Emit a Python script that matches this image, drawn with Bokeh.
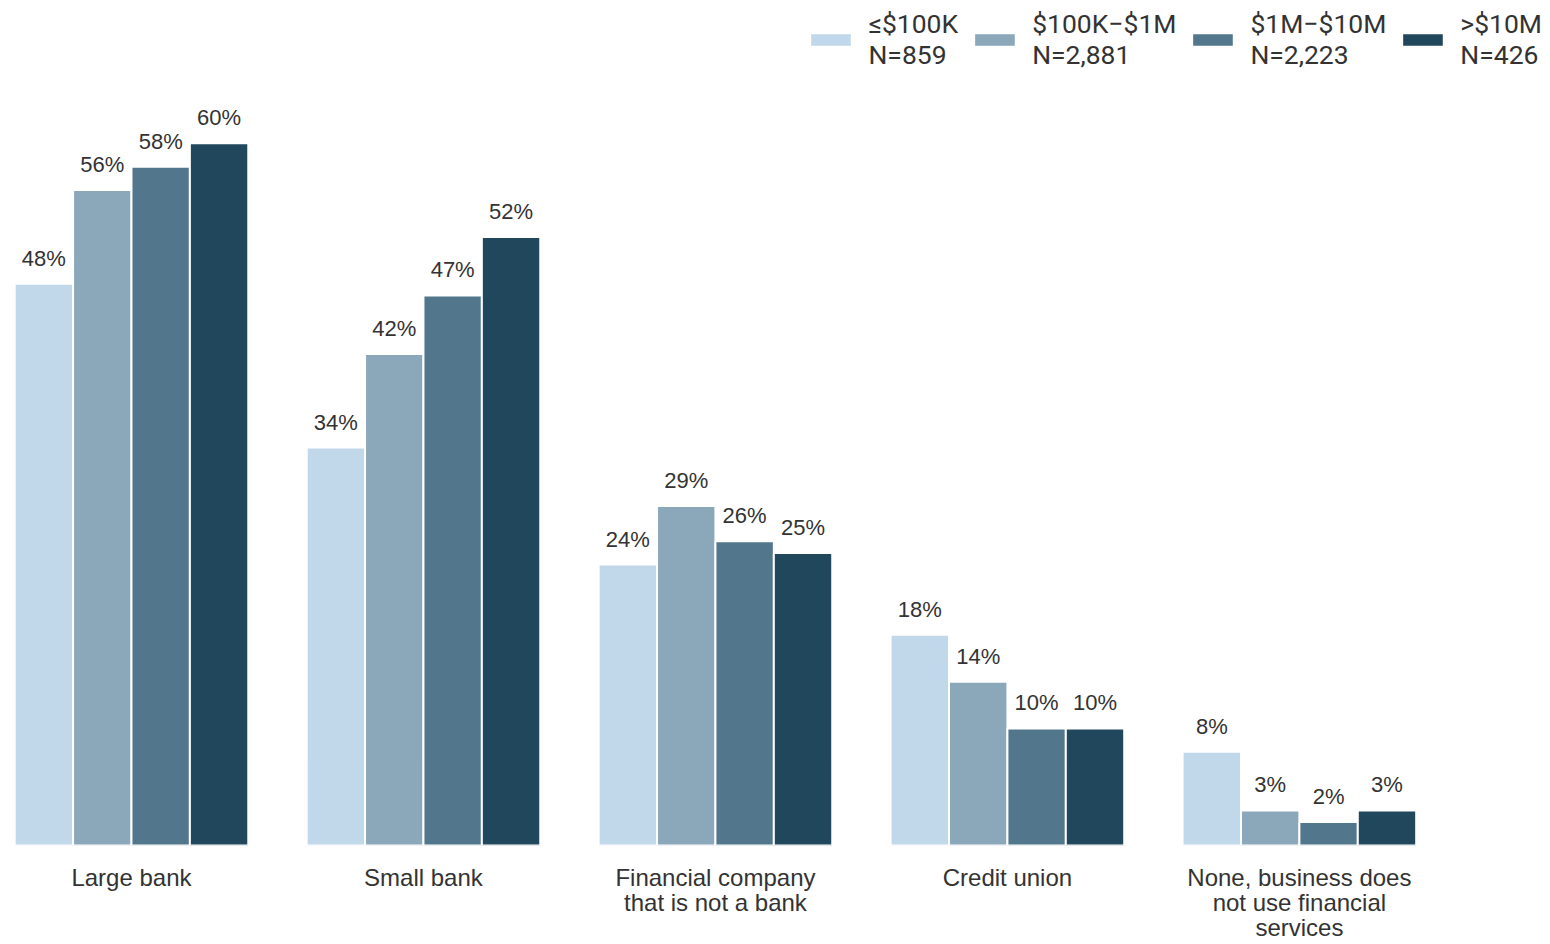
from bokeh.plotting import figure
from bokeh.models import Range1d, FixedTicker, Legend, LegendItem
from bokeh.core.properties import value
from bokeh.embed import file_html
from bokeh.resources import INLINE

categories = ["Large bank", "Small bank", "Financial company\nthat is not a bank",
              "Credit union", "None, business does\nnot use financial\nservices"]
series_names = ["≤$100K\nN=859", "$100K−$1M\nN=2,881", "$1M−$10M\nN=2,223", ">$10M\nN=426"]
v_le100k = [48, 34, 24, 18, 8]
v_100k_1m = [56, 42, 29, 14, 3]
v_1m_10m = [58, 47, 26, 10, 2]
v_gt10m = [60, 52, 25, 10, 3]
series_values = [v_le100k, v_100k_1m, v_1m_10m, v_gt10m]
colors = ["#C1D7EA", "#8BA7BA", "#52768B", "#20475C"]

TEXT = "#333333"
FONT = "Liberation Sans"

p = figure(width=1550, height=944, output_backend="svg", toolbar_location=None,
           x_range=Range1d(-0.4486, 4.860), y_range=Range1d(0, 72.2),
           min_border_left=0, min_border_right=0, min_border_top=0, min_border_bottom=99)
p.outline_line_color = None
p.xgrid.visible = False
p.ygrid.visible = False
p.yaxis.visible = False

xa = p.xaxis[0]
xa.ticker = FixedTicker(ticks=list(range(len(categories))))
xa.major_label_overrides = {i: c for i, c in enumerate(categories)}
xa.axis_line_color = None
xa.major_tick_line_color = None
xa.minor_tick_line_color = None
xa.major_tick_out = 0
xa.major_tick_in = 0
xa.major_label_standoff = 18
xa.major_label_text_font = FONT
xa.major_label_text_font_size = "24px"
xa.major_label_text_line_height = 0.93
xa.major_label_text_color = TEXT

width = 0.2
items = []
n = len(series_values)
for j, (vals, col, name) in enumerate(zip(series_values, colors, series_names)):
    xs = [i + (j - (n - 1) / 2) * width for i in range(len(categories))]
    r = p.vbar(x=xs, top=vals, width=width, fill_color=col, line_color="white", line_width=2)
    p.text(x=xs, y=vals, text=[f"{v}%" for v in vals], text_align="center",
           text_baseline="bottom", y_offset=-13, text_font=value(FONT),
           text_font_size="22px", text_color=TEXT)
    items.append(LegendItem(label=name, renderers=[r]))

legend = Legend(items=items, orientation="horizontal", location="top_right",
                glyph_width=52, glyph_height=17, label_standoff=12, spacing=10,
                padding=0, margin=8, border_line_color=None, background_fill_alpha=0,
                label_text_font="Roboto", label_text_font_size="26.5px",
                label_text_line_height=0.9, label_text_color=TEXT)
p.add_layout(legend)

open("out.html", "w").write(file_html(p, INLINE))
